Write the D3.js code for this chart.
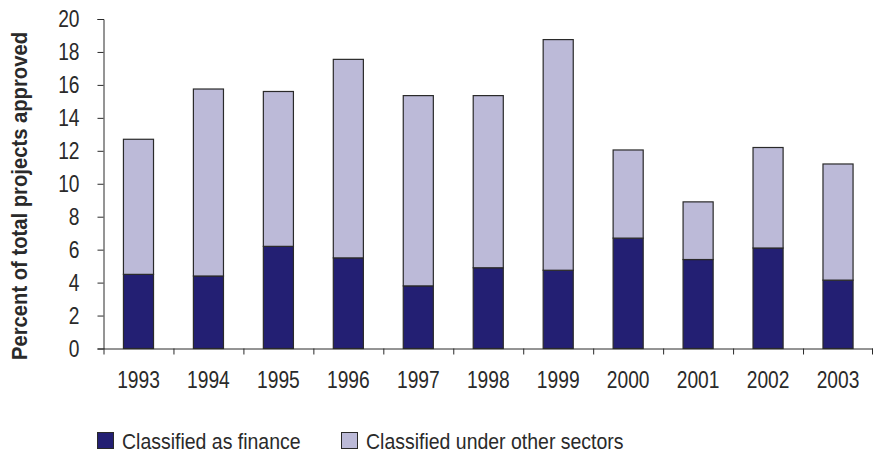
<!DOCTYPE html>
<html>
<head>
<meta charset="utf-8">
<script src="https://cdn.jsdelivr.net/npm/d3@7"></script>
<style>
  body { margin: 0; background: #fff; }
  text { font-family: "Liberation Sans", Arial, sans-serif; fill: #2a2a2a; }
</style>
</head>
<body>
<div id="chart"></div>
<script>
// values
let years = ["1993", "1994", "1995", "1996", "1997", "1998", "1999", "2000", "2001", "2002", "2003"];
let finance = [4.5, 4.4, 6.2, 5.5, 3.8, 4.9, 4.75, 6.7, 5.4, 6.1, 4.15];
let other = [8.2, 11.35, 9.4, 12.05, 11.55, 10.45, 14.0, 5.35, 3.5, 6.1, 7.05];
let yTicks = [0, 2, 4, 6, 8, 10, 12, 14, 16, 18, 20];
let seriesNames = ["Classified as finance", "Classified under other sectors"];
let colors = ["#231f73", "#bcbad8"];

let W = 873, H = 453;
let margin = { top: 19, right: 0, bottom: 104.5, left: 103.5 },
  width = W - margin.left - margin.right,
  height = H - margin.top - margin.bottom;

//the reference uses a condensed face, squeeze the glyphs horizontally
function squeeze(sel, f) {
  sel.each(function () {
    let l = this.getComputedTextLength();
    d3.select(this).attr("textLength", l * f).attr("lengthAdjust", "spacingAndGlyphs");
  });
}

let svg = d3.select("#chart")
  .append("svg")
  .attr("width", W)
  .attr("height", H)
  .append("g")
  .attr("transform", "translate(" + margin.left + "," + margin.top + ")");

//band scale without padding gives the tick slots, bars sit in the middle
let xScale = d3.scaleBand().domain(years).range([0, width]).padding(0);
let barW = xScale.bandwidth() * 0.43;
let yScale = d3.scaleLinear().domain([0, 20]).range([height, 0]);

//stack the two series
let rows = years.map(function (y, i) {
  return { year: y, finance: finance[i], other: other[i] };
});
let stacked = d3.stack().keys(["finance", "other"])(rows);

svg.selectAll(".series")
  .data(stacked)
  .enter()
  .append("g")
  .attr("class", "series")
  .attr("fill", function (d, i) { return colors[i]; })
  .selectAll("rect")
  .data(function (d) { return d; })
  .enter()
  .append("rect")
  .attr("x", function (d) { return xScale(d.data.year) + (xScale.bandwidth() - barW) / 2; })
  .attr("y", function (d) { return yScale(d[1]); })
  .attr("width", barW)
  .attr("height", function (d) { return yScale(d[0]) - yScale(d[1]); })
  .attr("stroke", "#2a2a2a")
  .attr("stroke-width", 1.2);

// Y axis
let yAxis = svg.append("g")
  .call(d3.axisLeft(yScale).tickValues(yTicks).tickSize(6).tickPadding(18));
yAxis.selectAll("text").style("font-size", "24px").call(squeeze, 0.8);
yAxis.selectAll("line, path").attr("stroke", "#2a2a2a");

// X axis, labels at centre, ticks at band edges
let xAxis = svg.append("g")
  .attr("transform", "translate(0," + height + ")")
  .call(d3.axisBottom(xScale).tickSize(0).tickPadding(22));
xAxis.selectAll("text").style("font-size", "24px").call(squeeze, 0.8);
xAxis.select(".domain").attr("stroke", "#2a2a2a");
xAxis.selectAll(".edge")
  .data(years.concat(["end"]))
  .enter()
  .append("line")
  .attr("class", "edge")
  .attr("x1", function (d) { return d === "end" ? width - 0.5 : xScale(d) + 0.5; })
  .attr("x2", function (d) { return d === "end" ? width - 0.5 : xScale(d) + 0.5; })
  .attr("y1", 0)
  .attr("y2", 6)
  .attr("stroke", "#2a2a2a");

// Y title
svg.append("text")
  .attr("transform", "translate(" + (27 - margin.left) + "," + (196 - margin.top) + ") rotate(-90)")
  .attr("text-anchor", "middle")
  .style("font-size", "22px")
  .style("font-weight", "bold")
  .attr("textLength", 328)
  .attr("lengthAdjust", "spacingAndGlyphs")
  .text("Percent of total projects approved");

// Legend
let legendX = [97, 341];
let legend = svg.selectAll(".legend")
  .data(seriesNames)
  .enter()
  .append("g")
  .attr("class", "legend")
  .attr("transform", function (d, i) {
    return "translate(" + (legendX[i] - margin.left) + "," + (432 - margin.top) + ")";
  });
legend.append("rect")
  .attr("x", 0.5).attr("y", 0.5)
  .attr("width", 16).attr("height", 16)
  .attr("fill", function (d, i) { return colors[i]; })
  .attr("stroke", "#2a2a2a");
legend.append("text")
  .attr("x", 25)
  .attr("y", 16.5)
  .style("font-size", "22px")
  .text(String)
  .call(squeeze, 0.885);
</script>
</body>
</html>
